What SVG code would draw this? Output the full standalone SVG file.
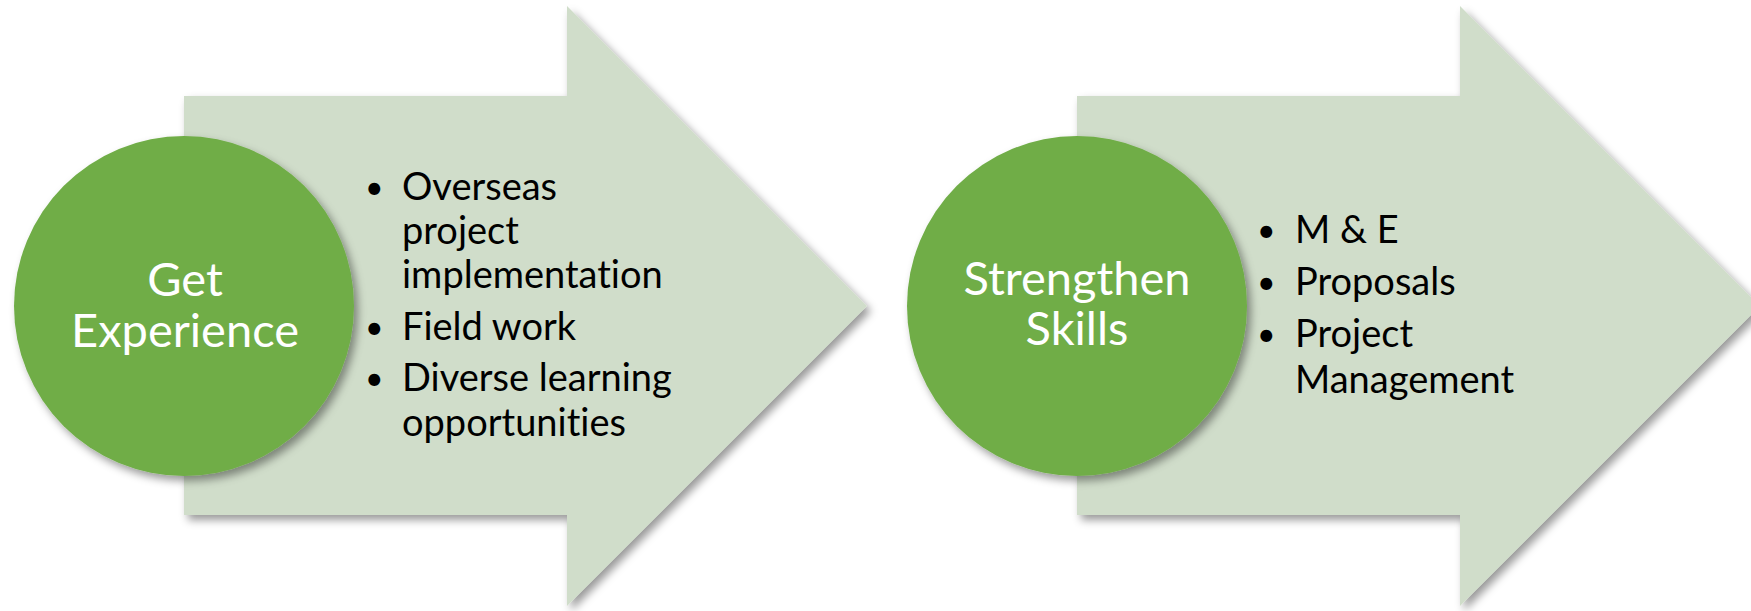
<svg xmlns="http://www.w3.org/2000/svg" width="1751" height="611" viewBox="0 0 1751 611">
<defs>
<filter id="sh" x="-10%" y="-10%" width="125%" height="125%">
<feDropShadow dx="4" dy="5" stdDeviation="4" flood-color="#000" flood-opacity="0.4"/>
</filter>
<style>
.arrow{fill:#D0DDCA;filter:url(#sh)}
.circle{fill:#70AD47;filter:url(#sh)}
.ctext{font-family:Lato,"Open Sans",sans-serif;font-size:47px;fill:#FFFFFF;text-anchor:middle;font-variant-ligatures:none}
.btext{font-family:Lato,"Open Sans",sans-serif;font-size:38px;fill:#000000;font-variant-ligatures:none}
.bullet{font-family:Lato,"Open Sans",sans-serif;font-size:32px;fill:#000000}
</style>
</defs>
<rect width="1751" height="611" fill="#FFFFFF"/>
<g id="connectors"></g>
<g id="arrow1">
<path class="arrow" d="M184,96 H567 V6 L867,306 L567,606 V515 H184 Z"/>
</g>
<g id="arrow2">
<path class="arrow" d="M1077,96 H1460 V6 L1760,306 L1460,606 V515 H1077 Z"/>
</g>
<g id="circle1">
<circle class="circle" cx="184" cy="306" r="170"/>
<text class="ctext" x="185" y="296">Get</text>
<text class="ctext" x="185" y="347">Experience</text>
</g>
<g id="list1">
<text class="bullet" x="365" y="199">•</text>
<text class="btext" x="402" y="200">Overseas</text>
<text class="btext" x="402" y="244">project</text>
<text class="btext" x="402" y="288">implementation</text>
<text class="bullet" x="365" y="339">•</text>
<text class="btext" x="402" y="340">Field work</text>
<text class="bullet" x="365" y="390">•</text>
<text class="btext" x="402" y="391">Diverse learning</text>
<text class="btext" x="402" y="436">opportunities</text>
</g>
<g id="circle2">
<circle class="circle" cx="1077" cy="306" r="170"/>
<text class="ctext" x="1077" y="295">Strengthen</text>
<text class="ctext" x="1077" y="345">Skills</text>
</g>
<g id="list2">
<text class="bullet" x="1257" y="242">•</text>
<text class="btext" x="1295" y="243">M &amp; E</text>
<text class="bullet" x="1257" y="294">•</text>
<text class="btext" x="1295" y="295">Proposals</text>
<text class="bullet" x="1257" y="346">•</text>
<text class="btext" x="1295" y="347">Project</text>
<text class="btext" x="1295" y="393">Management</text>
</g>
</svg>
